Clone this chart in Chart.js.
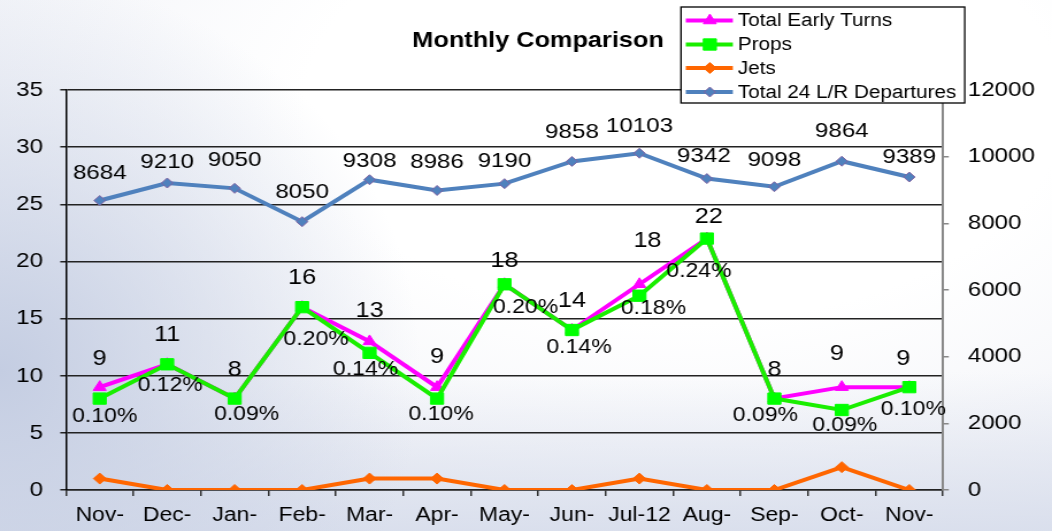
<!DOCTYPE html>
<html><head><meta charset="utf-8">
<title>Monthly Comparison</title>
<script src="https://cdn.jsdelivr.net/npm/chart.js@4.4.1/dist/chart.umd.min.js"></script>
<style>
html,body{margin:0;padding:0;}
body{width:1052px;height:531px;overflow:hidden;
 background:
  radial-gradient(ellipse 40% 75% at 0% 70%, rgba(196,205,226,1) 0%, rgba(196,205,226,0) 100%),
  linear-gradient(to top, rgba(214,220,235,0.85) 0%, rgba(214,220,235,0) 30%),
  radial-gradient(ellipse 80% 90% at 65% 20%, #ffffff 45%, #eef0f6 100%);}
#stage{position:relative;width:1052px;height:531px;overflow:hidden;}
#c{position:absolute;left:0;top:0;transform:scaleX(1.14973);transform-origin:0 0;}
</style></head>
<body><div id="stage"><canvas id="c" width="915" height="560" style="width:915px;height:560px"></canvas></div>
<script>
// ---------- data ----------
const categories = [["Nov-","11"],["Dec-","11"],["Jan-","12"],["Feb-","12"],["Mar-","12"],["Apr-","12"],["May-","12"],["Jun-","12"],["Jul-12"],["Aug-","12"],["Sep-","12"],["Oct-","12"],["Nov-","12"]];
const seriesNames = ["Total Early Turns","Props","Jets","Total 24 L/R Departures"];
const earlyTurns = [9,11,8,16,13,9,18,14,18,22,8,9,9];
const props = [8,11,8,16,12,8,18,14,17,22,8,7,9];
const jets = [1,0,0,0,1,1,0,0,1,0,0,2,0];
const departures = [8684,9210,9050,8050,9308,8986,9190,9858,10103,9342,9098,9864,9389];
const propsPercent = ["0.10%","0.12%","0.09%","0.20%","0.14%","0.10%","0.20%","0.14%","0.18%","0.24%","0.09%","0.09%","0.10%"];
const leftTicks = {min:0, max:35, step:5};
const rightTicks = {min:0, max:12000, step:2000};

// ---------- styling ----------
const SX = 1052/915;
const FONT = "'Liberation Sans', Arial, sans-serif";
const C = {turns:'#ff00ff', props:'#00ff00', propsLine:'#1aee00', jets:'#ff6600', dep:'#4f81bd', depBorder:'#8064a2'};

const labelLayout = [
  {dataset:0, texts: earlyTurns.map(String), size:22,
   dx:[0,0,0,0,0,0,0,0,8,2,0,-5,-6], dy:[-28,-29,-29,-29,-30,-30,-23,-29,-43,-22,-29,-33,-28]},
  {dataset:1, texts: propsPercent, size:20,
   dx:[5,3,12,14,-4,4,21,7,14,-8,-9,3,4], dy:[18,21,16,32,17,16,23,17,13,33,17,15,22]},
  {dataset:3, texts: departures.map(String), size:21,
   dx:[0,0,0,0,0,0,0,0,0,-3,0,0,0], dy:[-27,-21,-28,-29,-19,-28,-22,-29,-27,-22,-27,-30,-20]}
];

const valueLabels = {
  id:'valueLabels',
  afterDatasetsDraw(chart){
    const ctx = chart.ctx;
    ctx.save();
    ctx.fillStyle = '#000';
    ctx.textAlign = 'center';
    ctx.textBaseline = 'middle';
    labelLayout.forEach(s => {
      const meta = chart.getDatasetMeta(s.dataset);
      ctx.font = s.size + 'px ' + FONT;
      meta.data.forEach((pt, i) => {
        ctx.fillText(s.texts[i], pt.x + s.dx[i]/SX, pt.y + s.dy[i]);
      });
    });
    ctx.restore();
  }
};

const boxLegend = {
  id:'boxLegend',
  afterDraw(chart){
    const ctx = chart.ctx;
    const box = {x:592.3, y:7, w:246.8, h:96};
    const rows = [20.5, 44.5, 68, 92];
    ctx.save();
    ctx.fillStyle = '#fff';
    ctx.fillRect(box.x, box.y, box.w, box.h);
    ctx.strokeStyle = '#000';
    ctx.lineWidth = 1.3;
    ctx.strokeRect(box.x, box.y, box.w, box.h);
    chart.data.datasets.forEach((ds, i) => {
      const y = rows[i];
      ctx.strokeStyle = ds.borderColor;
      ctx.lineWidth = 4;
      ctx.beginPath(); ctx.moveTo(596.5, y); ctx.lineTo(637.4, y); ctx.stroke();
      ctx.fillStyle = ds.pointBackgroundColor;
      ctx.strokeStyle = ds.pointBorderColor;
      ctx.lineWidth = ds.pointBorderWidth;
      Chart.helpers.drawPoint(ctx, {pointStyle: ds.pointStyle, radius: ds.pointRadius, rotation:0, borderWidth: ds.pointBorderWidth}, 617.4, y);
      ctx.fillStyle = '#000';
      ctx.font = '18px ' + FONT;
      ctx.textAlign = 'left';
      ctx.textBaseline = 'middle';
      ctx.fillText(ds.label, 641.7, y + 1);
    });
    ctx.restore();
  }
};

new Chart(document.getElementById('c'), {
  type:'line',
  data:{
    labels: categories,
    datasets:[
      {label:seriesNames[0], data:earlyTurns, yAxisID:'y', order:1,
       borderColor:C.turns, borderWidth:4, pointStyle:'triangle', pointRadius:6.5,
       pointBackgroundColor:C.turns, pointBorderColor:C.turns, pointBorderWidth:1, tension:0},
      {label:seriesNames[1], data:props, yAxisID:'y', order:0,
       borderColor:C.propsLine, borderWidth:4, pointStyle:'rect', pointRadius:8,
       pointBackgroundColor:C.props, pointBorderColor:C.props, pointBorderWidth:1, tension:0},
      {label:seriesNames[2], data:jets, yAxisID:'y', order:2,
       borderColor:C.jets, borderWidth:4, pointStyle:'rectRot', pointRadius:5.5,
       pointBackgroundColor:C.jets, pointBorderColor:C.jets, pointBorderWidth:1, tension:0},
      {label:seriesNames[3], data:departures, yAxisID:'y2', order:3,
       borderColor:C.dep, borderWidth:4, pointStyle:'rectRot', pointRadius:5,
       pointBackgroundColor:C.dep, pointBorderColor:C.depBorder, pointBorderWidth:1, tension:0}
    ]
  },
  options:{
    responsive:false, animation:false, devicePixelRatio:1,
    layout:{padding:{left:0, right:-21, top:0, bottom:0}},
    plugins:{
      legend:{display:false},
      tooltip:{enabled:false},
      title:{display:true, text:'Monthly Comparison', color:'#000',
        font:{family:FONT, size:22, weight:'bold', lineHeight:1.2},
        padding:{top:27.8, bottom:35.8}}
    },
    scales:{
      x:{
        type:'category', offset:true,
        grid:{display:true, drawOnChartArea:false, drawTicks:true, tickLength:6, color:'#333', lineWidth:1.5, offset:true},
        border:{display:true, color:'#222', width:1.5},
        ticks:{color:'#000', font:{family:FONT, size:20, lineHeight:1.2}, padding:7, maxRotation:0, minRotation:0, autoSkip:false},
        afterFit(s){ s.height = 70; }
      },
      y:{
        position:'left', min:leftTicks.min, max:leftTicks.max,
        ticks:{stepSize:leftTicks.step, color:'#000', font:{family:FONT, size:21}, padding:15, callback:v => String(v)},
        grid:{color:'#222', lineWidth:1.5, tickLength:5, drawTicks:true},
        border:{display:true, color:'#000', width:1.5},
        afterFit(s){ s.width = 57.4; }
      },
      y2:{
        position:'right', min:rightTicks.min, max:rightTicks.max,
        ticks:{stepSize:rightTicks.step, color:'#000', font:{family:FONT, size:21}, padding:16.5, callback:v => String(v)},
        grid:{drawOnChartArea:false, color:'#888', lineWidth:1.5, tickLength:5, drawTicks:true},
        border:{display:true, color:'#888', width:2},
        afterFit(s){ s.width = 115.8; }
      }
    }
  },
  plugins:[valueLabels, boxLegend]
});
</script></body></html>
